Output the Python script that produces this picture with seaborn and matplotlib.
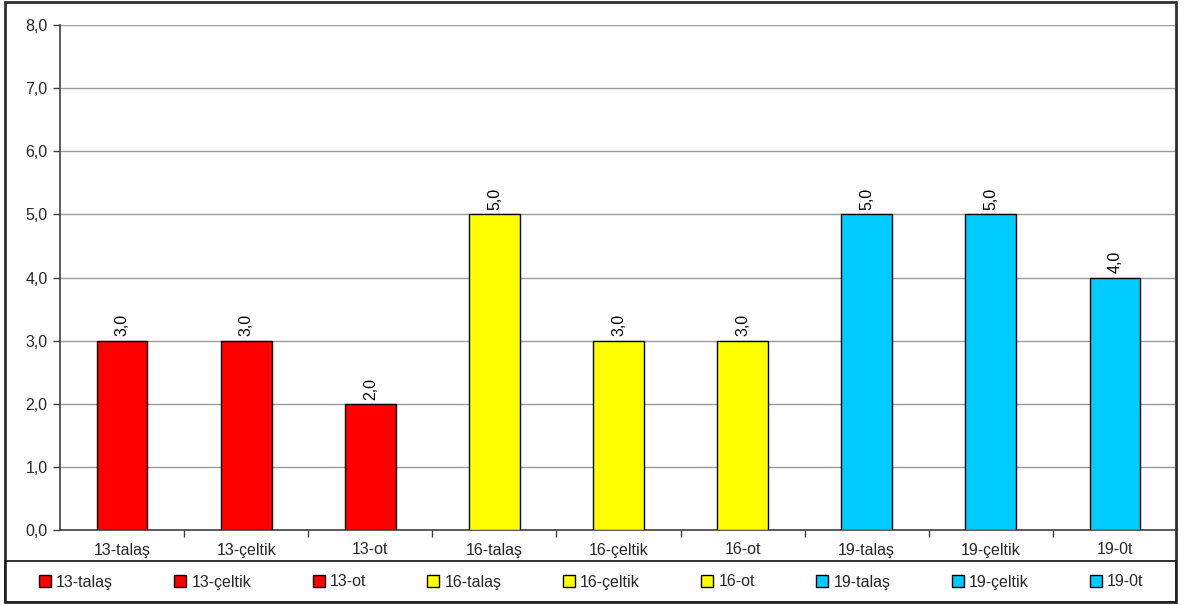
import matplotlib
matplotlib.use("Agg")
import matplotlib.pyplot as plt
from matplotlib.lines import Line2D
from matplotlib.patches import Rectangle
from matplotlib.ticker import FuncFormatter, FixedLocator
import seaborn as sns
import pandas as pd

categories = ["13-talaş", "13-çeltik", "13-ot", "16-talaş", "16-çeltik",
              "16-ot", "19-talaş", "19-çeltik", "19-0t"]
values = [3.0, 3.0, 2.0, 5.0, 3.0, 3.0, 5.0, 5.0, 4.0]
colors = ["#FF0000", "#FF0000", "#FF0000", "#FFFF00", "#FFFF00",
          "#FFFF00", "#00CCFF", "#00CCFF", "#00CCFF"]
y_ticks = [0, 1, 2, 3, 4, 5, 6, 7, 8]

sns.set_theme(style="white")
plt.rcParams["font.family"] = ["Liberation Sans", "DejaVu Sans"]
plt.rcParams["font.size"] = 11

W, H = 1188, 605
fig = plt.figure(figsize=(W / 100, H / 100), dpi=100)
fig.patch.set_facecolor("white")
ax = fig.add_axes([60 / W, 1 - 530 / H, (1177 - 60) / W, (530 - 25) / H])

df = pd.DataFrame({"kategori": categories, "deger": values})
palette = dict(zip(categories, colors))
sns.barplot(data=df, x="kategori", y="deger", hue="kategori", palette=palette,
            order=categories, hue_order=categories, dodge=False, legend=False,
            width=0.41, saturation=1, edgecolor="black", linewidth=1, ax=ax,
            zorder=3)

comma = lambda v: f"{v:.1f}".replace(".", ",")
for cont in ax.containers:
    ax.bar_label(cont, labels=[comma(b.get_height()) for b in cont],
                 rotation=90, padding=3, fontsize=11.5, color="black")

ax.set_xlim(-0.5, len(categories) - 0.5)
ax.set_ylim(0, 8)
ax.yaxis.set_major_locator(FixedLocator(y_ticks))
ax.yaxis.set_major_formatter(FuncFormatter(lambda v, p: comma(v)))
ax.set_xlabel("")
ax.set_ylabel("")
ax.grid(axis="y", color="#9a9a9a", linewidth=1, zorder=0)
ax.set_axisbelow(True)

# category separators on the x axis
ax.set_xticks([i - 0.5 for i in range(1, len(categories))], minor=True)
ax.tick_params(axis="x", which="minor", bottom=True, length=5, width=1,
               color="#404040", direction="out")
ax.tick_params(axis="x", which="major", bottom=False, length=0,
               labelsize=11.5, pad=9)
ax.tick_params(axis="y", left=True, length=5, width=1, color="#404040",
               labelsize=11.5, pad=4)

for side in ["left", "bottom"]:
    ax.spines[side].set_color("#404040")
    ax.spines[side].set_linewidth(1.2)
ax.spines["top"].set_visible(False)
ax.spines["right"].set_color("#9a9a9a")
ax.spines["right"].set_linewidth(1.5)

# outer frame and legend box
fig.patches.append(Rectangle((5 / W, 3 / H), (1176 - 5) / W, (603 - 3) / H,
                             transform=fig.transFigure, fill=False,
                             edgecolor="#303030", linewidth=2, zorder=10))
fig.patches.append(Rectangle((5 / W, 3 / H), (1176 - 5) / W, (603 - 562) / H,
                             transform=fig.transFigure, fill=False,
                             edgecolor="#202020", linewidth=1.3, zorder=10))

handles = [Line2D([], [], linestyle="none", marker="s", markersize=8,
                  markerfacecolor=c, markeredgecolor="black",
                  markeredgewidth=1) for c in colors]
fig.legend(handles, categories, loc="center left", ncol=len(categories),
           bbox_to_anchor=(32 / W, 1 - 582 / H, (1150 - 32) / W, 0),
           mode="expand", frameon=False, fontsize=11.5, handlelength=0.8,
           handletextpad=0.3, borderaxespad=0, columnspacing=1.0)

fig.savefig("out.png", dpi=100, facecolor="white")
